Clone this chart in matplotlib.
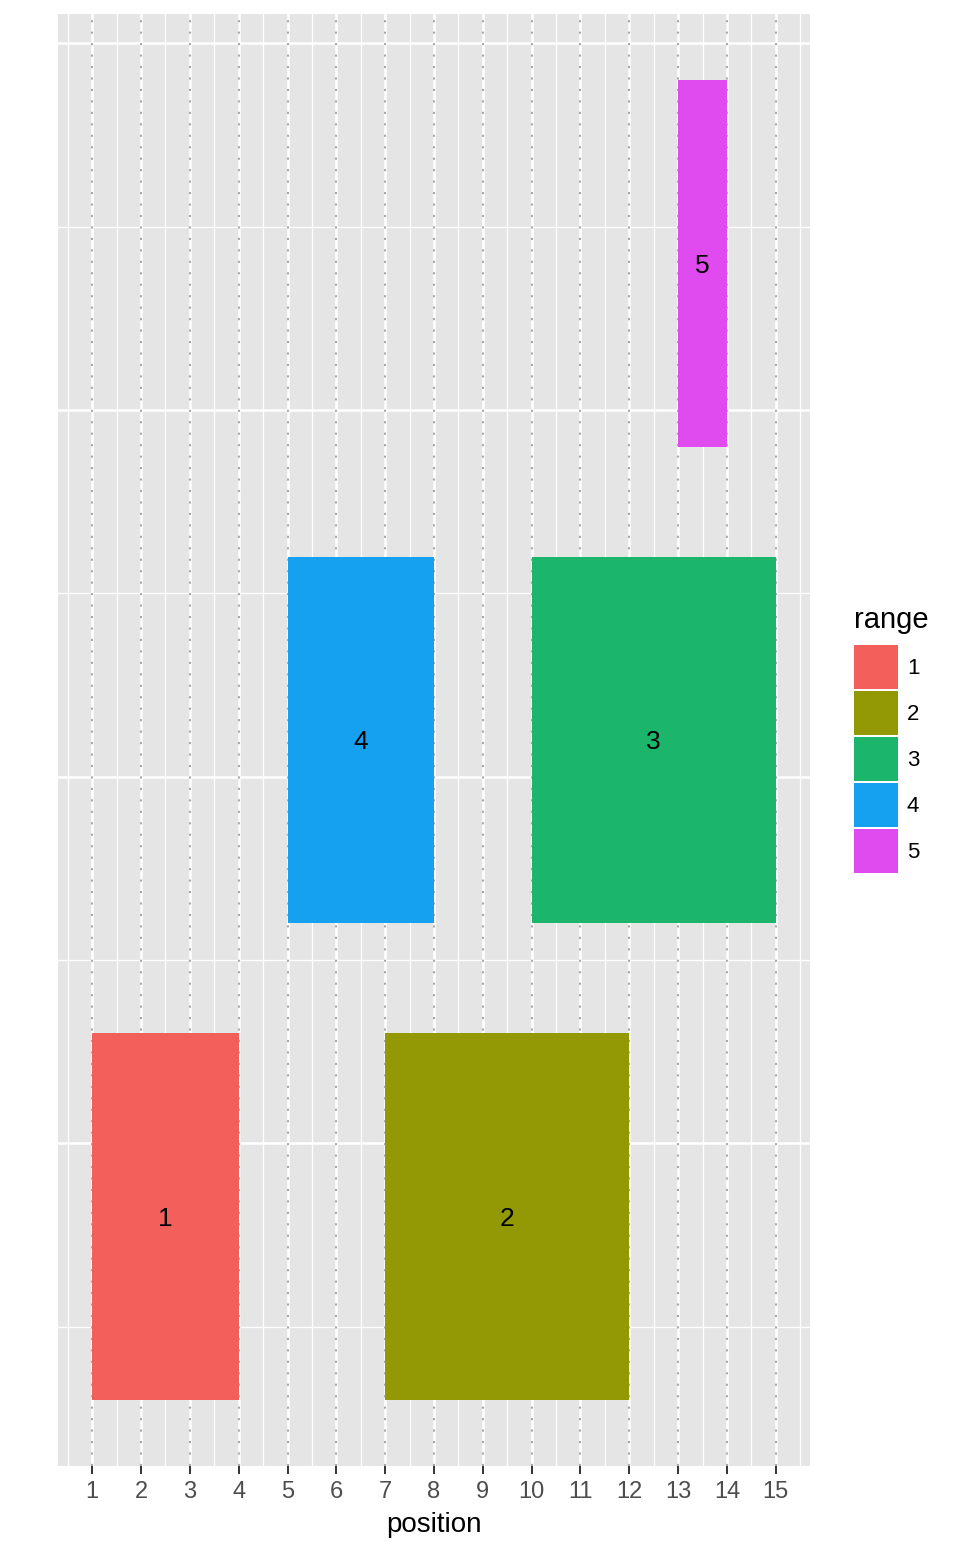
import matplotlib.pyplot as plt
from matplotlib.patches import Patch

plt.rcParams['font.family'] = ['Liberation Sans', 'DejaVu Sans']

# rectangle data
range_ids = ['1', '2', '3', '4', '5']
xmin = [1, 7, 10, 5, 13]
xmax = [4, 12, 15, 8, 14]
ymin = [0.3, 0.3, 1.6, 1.6, 2.9]
ymax = [1.3, 1.3, 2.6, 2.6, 3.9]
colors = ['#F35F5A', '#939905', '#1BB66C', '#16A0F0', '#DF4BEE']
x_ticks = list(range(1, 16))

fig = plt.figure(figsize=(9.6, 15.53), dpi=100)
ax = fig.add_axes([58 / 960, 1 - 1466 / 1553, 752 / 960, 1452 / 1553])
ax.set_facecolor('#E5E5E5')

# grid lines (ggplot style)
for x in x_ticks:
    ax.axvline(x, color='white', lw=1.8, zorder=0.5)
    ax.axvline(x, color='#A8A8A8', lw=1.5, ls=(0, (1, 4.5)), zorder=0.6)
for x in [v + 0.5 for v in range(0, 16)]:
    ax.axvline(x, color='white', lw=0.9, zorder=0.4)
for y in [1, 2, 3, 4]:
    ax.axhline(y, color='white', lw=1.8, zorder=0.5)
for y in [0.5, 1.5, 2.5, 3.5]:
    ax.axhline(y, color='white', lw=0.9, zorder=0.4)

widths = [b - a for a, b in zip(xmin, xmax)]
heights = [b - a for a, b in zip(ymin, ymax)]
ax.bar(xmin, heights, width=widths, bottom=ymin, align='edge',
       color=colors, edgecolor='none', zorder=2)

for lab, x0, x1, y0, y1 in zip(range_ids, xmin, xmax, ymin, ymax):
    ax.text((x0 + x1) / 2, (y0 + y1) / 2, lab, ha='center', va='center_baseline',
            fontsize=19, color='black', zorder=3)

ax.set_xlim(0.3, 15.7)
ax.set_ylim(0.12, 4.08)
ax.set_xticks(x_ticks)
ax.set_xticklabels([str(v) for v in x_ticks])
ax.set_yticks([])
ax.tick_params(axis='x', length=5.5, width=1.4, color='#333333',
               labelcolor='#4D4D4D', labelsize=17, pad=5)
for s in ax.spines.values():
    s.set_visible(False)
ax.set_xlabel('position', fontsize=20, color='black', labelpad=7)

handles = [Patch(facecolor=c, edgecolor='none', label=l) for c, l in zip(colors, range_ids)]
leg = ax.legend(handles=handles, title='range', loc='upper left',
                bbox_to_anchor=(854 / 960, 1 - 606 / 1553), bbox_transform=fig.transFigure,
                frameon=False, fontsize=16, title_fontsize=21,
                handlelength=1.98, handleheight=2.68, labelspacing=0.08,
                handletextpad=0.4, borderaxespad=0, borderpad=0)
leg._legend_box.align = 'left'
leg._legend_box.sep = 8

fig.savefig('out.png', dpi=100)
